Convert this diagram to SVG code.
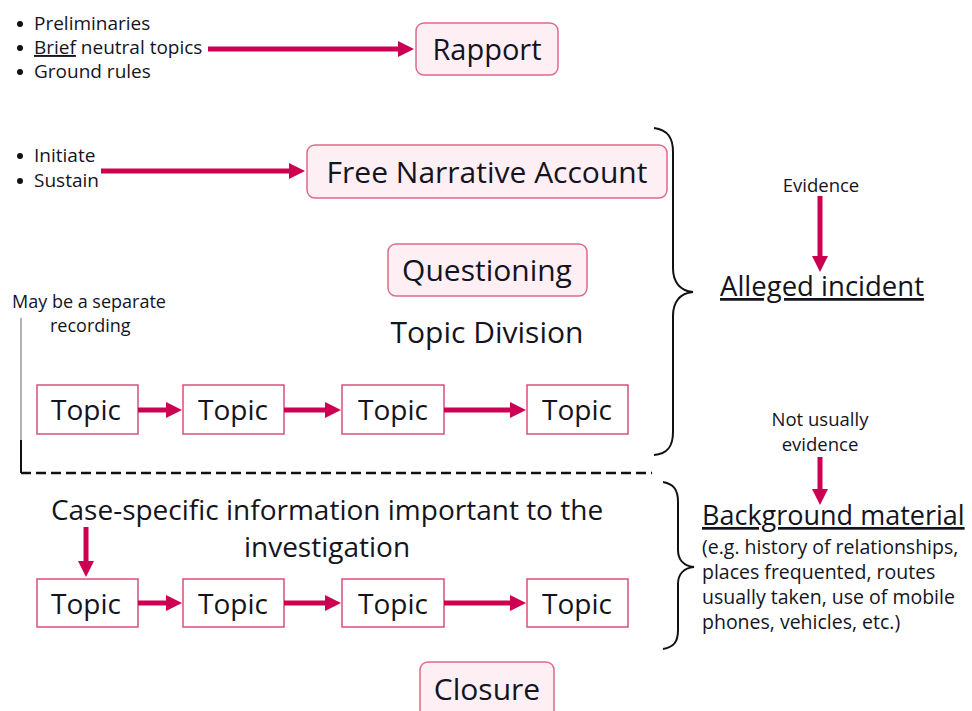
<svg xmlns="http://www.w3.org/2000/svg" width="972" height="711" viewBox="0 0 972 711">
<style>
text{font-family:"Open Sans","Noto Sans","Liberation Sans",sans-serif;fill:#14141e}
.pill{fill:#FDEFF3;stroke:#DE6A8C;stroke-width:1.5}
.topic{fill:#FFFFFF;stroke:#D94F7A;stroke-width:1.5}
.arr{stroke:#CC0052;stroke-width:5;fill:none;marker-end:url(#ah)}
.brace{fill:none;stroke:#111;stroke-width:2}
.big{font-size:30px;text-anchor:middle}
.tp{font-size:28px;text-anchor:middle}
.sm{font-size:19px}
.par{font-size:19.5px}
.note{font-size:18.5px;text-anchor:middle}
.dot{fill:#111}
</style>
<defs>
<marker id="ah" markerUnits="userSpaceOnUse" markerWidth="16" markerHeight="16" viewBox="0 0 16 16" refX="1" refY="8" orient="auto">
<path d="M0,0 L16,8 L0,16 z" fill="#CC0052"/>
</marker>
</defs>
<rect width="972" height="711" fill="#FFFFFF"/>

<g id="rapport-bullets">
<circle class="dot" cx="20" cy="24" r="3"/>
<circle class="dot" cx="20" cy="48" r="3"/>
<circle class="dot" cx="20" cy="72" r="3"/>
<text class="sm" x="34" y="30">Preliminaries</text>
<text class="sm" x="34" y="54"><tspan text-decoration="underline">Brief</tspan> neutral topics</text>
<text class="sm" x="34" y="78">Ground rules</text>
</g>

<g id="rapport">
<rect class="pill" x="416" y="23" width="142" height="52" rx="8"/>
<text class="big" x="487" y="60" style="font-size:29px">Rapport</text>
</g>

<g id="narrative-bullets">
<circle class="dot" cx="20" cy="156" r="3"/>
<circle class="dot" cx="20" cy="181" r="3"/>
<text class="sm" x="34" y="162">Initiate</text>
<text class="sm" x="34" y="187">Sustain</text>
</g>

<g id="free-narrative">
<rect class="pill" x="307" y="145" width="360" height="53" rx="8"/>
<text class="big" x="487" y="183">Free Narrative Account</text>
</g>

<g id="questioning">
<rect class="pill" x="388" y="244" width="199" height="52" rx="8"/>
<text class="big" x="487" y="281">Questioning</text>
</g>

<g id="topic-division">
<text class="big" x="487" y="343">Topic Division</text>
</g>

<g id="separate-note">
<text x="12" y="308" style="font-size:18px">May be a separate</text>
<text x="50" y="332" style="font-size:18px">recording</text>
</g>

<g id="topic-r1-1"><rect class="topic" x="37" y="385" width="101" height="49"/><text class="tp" x="86" y="420">Topic</text></g>
<g id="topic-r1-2"><rect class="topic" x="183" y="385" width="101" height="49"/><text class="tp" x="233" y="420">Topic</text></g>
<g id="topic-r1-3"><rect class="topic" x="342" y="385" width="102" height="49"/><text class="tp" x="393" y="420">Topic</text></g>
<g id="topic-r1-4"><rect class="topic" x="527" y="385" width="101" height="49"/><text class="tp" x="577" y="420">Topic</text></g>

<g id="case-specific">
<text class="tp" x="327" y="520">Case-specific information important to the</text>
<text class="tp" x="327" y="557">investigation</text>
</g>

<g id="topic-r2-1"><rect class="topic" x="37" y="579" width="101" height="48"/><text class="tp" x="86" y="614">Topic</text></g>
<g id="topic-r2-2"><rect class="topic" x="183" y="579" width="101" height="48"/><text class="tp" x="233" y="614">Topic</text></g>
<g id="topic-r2-3"><rect class="topic" x="342" y="579" width="102" height="48"/><text class="tp" x="393" y="614">Topic</text></g>
<g id="topic-r2-4"><rect class="topic" x="527" y="579" width="101" height="48"/><text class="tp" x="577" y="614">Topic</text></g>

<g id="closure">
<rect class="pill" x="420" y="662" width="134" height="62" rx="8"/>
<text class="big" x="487" y="700">Closure</text>
</g>

<g id="alleged-incident">
<text class="note" x="821" y="192">Evidence</text>
<text x="822" y="296" style="font-size:27.5px;text-anchor:middle;text-decoration:underline">Alleged incident</text>
</g>

<g id="background-material">
<text class="note" x="820" y="426">Not usually</text>
<text class="note" x="820" y="451">evidence</text>
<text x="702" y="525" style="font-size:27px;text-decoration:underline">Background material</text>
<text class="par" x="702" y="554">(e.g. history of relationships,</text>
<text class="par" x="702" y="579">places frequented, routes</text>
<text class="par" x="702" y="604">usually taken, use of mobile</text>
<text class="par" x="702" y="629">phones, vehicles, etc.)</text>
</g>

<g id="connectors">
<line class="arr" x1="208" y1="49" x2="399" y2="49"/>
<line class="arr" x1="101" y1="171" x2="290" y2="171"/>
<line class="arr" x1="138" y1="410" x2="167" y2="410"/>
<line class="arr" x1="284" y1="410" x2="326" y2="410"/>
<line class="arr" x1="444" y1="410" x2="511" y2="410"/>
<line class="arr" x1="138" y1="603" x2="167" y2="603"/>
<line class="arr" x1="284" y1="603" x2="326" y2="603"/>
<line class="arr" x1="444" y1="603" x2="511" y2="603"/>
<line class="arr" x1="820" y1="196" x2="820" y2="257"/>
<line class="arr" x1="820" y1="457" x2="820" y2="490"/>
<line class="arr" x1="86" y1="527" x2="86" y2="562"/>
<line x1="21" y1="318" x2="21" y2="440" stroke="#9a9a9a" stroke-width="1.5"/>
<line x1="21" y1="440" x2="21" y2="473" stroke="#111" stroke-width="2"/>
<line x1="21" y1="473" x2="652" y2="473" stroke="#111" stroke-width="2.5" stroke-dasharray="10 5"/>
<path class="brace" d="M654,128 C668,130 673,138 673,152 L673,268 C673,282 680,291 693,292 C680,293 673,302 673,316 L673,432 C673,446 668,454 654,455"/>
<path class="brace" d="M663,482 C674,484 678,490 678,502 L678,550 C678,560 684,566 694,567 C684,568 678,574 678,584 L678,630 C678,642 674,647 663,649"/>
</g>
</svg>
